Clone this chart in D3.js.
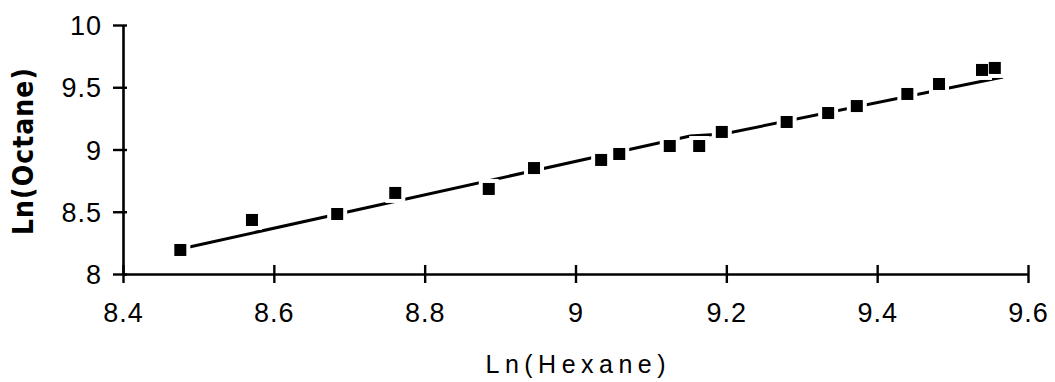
<!DOCTYPE html>
<html>
<head>
<meta charset="utf-8">
<script src="https://cdn.jsdelivr.net/npm/d3@7"></script>
<style>
  html, body { margin: 0; padding: 0; background: #fff; }
  svg { display: block; }
</style>
</head>
<body>
<div id="chart"></div>
<script>
// measured points, Ln(Hexane) vs Ln(Octane)
const lnHexane = [8.476, 8.571, 8.684, 8.761, 8.885, 8.945, 9.034, 9.058, 9.125, 9.164,
                  9.194, 9.280, 9.335, 9.373, 9.440, 9.482, 9.539, 9.556];
const lnOctane = [8.193, 8.434, 8.482, 8.651, 8.683, 8.851, 8.916, 8.964, 9.028, 9.028,
                  9.141, 9.221, 9.293, 9.349, 9.446, 9.526, 9.639, 9.655];

// fitted line as drawn
const fitX = [8.476, 9.152, 9.196, 9.567];
const fitY = [8.201, 9.108, 9.125, 9.582];

const xTicks = [8.4, 8.6, 8.8, 9.0, 9.2, 9.4, 9.6];
const yTicks = [8, 8.5, 9, 9.5, 10];

const W = 1055, H = 382;
const margin = { top: 25, right: 27, bottom: 108, left: 123 };
const width = W - margin.left - margin.right;
const height = H - margin.top - margin.bottom;

const svg = d3.select('#chart').append('svg')
  .attr('width', W)
  .attr('height', H);

const g = svg.append('g')
  .attr('transform', `translate(${margin.left},${margin.top})`);

const x = d3.scaleLinear().domain([8.4, 9.6]).range([0, width]);
const y = d3.scaleLinear().domain([8, 10]).range([height, 0]);

const tickFont = "'Liberation Sans', Arial, sans-serif";

// X axis
const xAxis = g.append('g')
  .attr('transform', `translate(0,${height})`)
  .call(d3.axisBottom(x).tickValues(xTicks).tickFormat(d3.format('')).tickSize(9).tickSizeOuter(0));
xAxis.select('.domain').attr('stroke', '#000').attr('stroke-width', 2.6);
xAxis.selectAll('.tick line').attr('y1', -9).attr('y2', 9).attr('stroke-width', 2.4);
xAxis.selectAll('.tick text')
  .attr('y', 48)
  .attr('dy', 0)
  .style('font-family', tickFont)
  .style('font-size', '27px')
  .style('letter-spacing', '1px')
  .attr('fill', '#000');

// Y axis
const yAxis = g.append('g')
  .call(d3.axisLeft(y).tickValues(yTicks).tickFormat(d3.format('')).tickSize(10).tickSizeOuter(0));
yAxis.select('.domain').attr('stroke', '#000').attr('stroke-width', 2.6);
yAxis.selectAll('.tick line').attr('x1', -10).attr('x2', 4).attr('stroke-width', 2.4);
yAxis.selectAll('.tick text')
  .attr('x', -21)
  .attr('dy', '0.36em')
  .style('font-family', tickFont)
  .style('font-size', '27px')
  .style('letter-spacing', '1px')
  .attr('fill', '#000');

// fit line
const line = d3.line().x(d => x(d[0])).y(d => y(d[1]));
g.append('path')
  .datum(d3.zip(fitX, fitY))
  .attr('d', line)
  .attr('fill', 'none')
  .attr('stroke', '#000')
  .attr('stroke-width', 3);

// markers, white halo breaks the line around each square
const pts = d3.zip(lnHexane, lnOctane);
const s = 12, halo = 4;
g.selectAll('.halo')
  .data(pts)
  .enter()
  .append('rect')
  .attr('class', 'halo')
  .attr('x', d => x(d[0]) - s / 2 - halo)
  .attr('y', d => y(d[1]) - s / 2 - halo)
  .attr('width', s + 2 * halo)
  .attr('height', s + 2 * halo)
  .attr('fill', '#fff');
g.selectAll('.pt')
  .data(pts)
  .enter()
  .append('rect')
  .attr('class', 'pt')
  .attr('x', d => x(d[0]) - s / 2)
  .attr('y', d => y(d[1]) - s / 2)
  .attr('width', s)
  .attr('height', s)
  .attr('fill', '#000');

// axis titles
svg.append('text')
  .attr('x', margin.left + width / 2)
  .attr('y', 373)
  .attr('text-anchor', 'middle')
  .attr('textLength', 180)
  .attr('lengthAdjust', 'spacing')
  .style('font-family', tickFont)
  .style('font-size', '25px')
  .attr('fill', '#000')
  .text('Ln(Hexane)');

svg.append('text')
  .attr('transform', 'translate(33,151.5) rotate(-90)')
  .attr('text-anchor', 'middle')
  .attr('textLength', 167)
  .attr('lengthAdjust', 'spacing')
  .style('font-family', "'Liberation Sans Narrow', 'DejaVu Sans Condensed', sans-serif")
  .style('font-weight', 'bold')
  .style('font-size', '28px')
  .attr('fill', '#000')
  .text('Ln(Octane)');
</script>
</body>
</html>
